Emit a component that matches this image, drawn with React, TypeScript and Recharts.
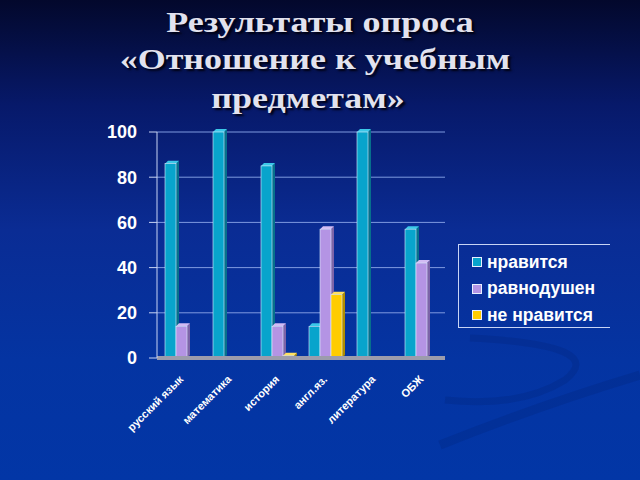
import React from 'react';
import { BarChart, Bar, XAxis, YAxis, CartesianGrid, Legend } from 'recharts';

const subjects = ['русский язык', 'математика', 'история', 'англ.яз.', 'литература', 'ОБЖ'];
const likes = [86, 100, 85, 14, 100, 57];
const indifferent = [14, 0, 14, 57, 0, 42];
const dislikes = [0, 0, 1, 28, 0, 0];
const yTicks = [0, 20, 40, 60, 80, 100];

const seriesInfo = [
  { key: 'likes', name: 'нравится', front: '#08a4cc', side: '#06708c', top: '#3cc8e8' },
  { key: 'indifferent', name: 'равнодушен', front: '#b494e4', side: '#7c64a8', top: '#d2bcf4' },
  { key: 'dislikes', name: 'не нравится', front: '#ffcc00', side: '#b08c00', top: '#ffe060' },
];

const data = subjects.map((s, i) => ({
  subject: s,
  likes: likes[i],
  indifferent: indifferent[i],
  dislikes: dislikes[i],
}));

const SANS = '"Liberation Sans", Arial, sans-serif';

// front face + top + right side, fake 3D like the old ppt chart
const Bar3D = (colors: { front: string; side: string; top: string }) => (props: any) => {
  const { x, y, width, height } = props;
  if (x == null || y == null) return null;
  const d = 3;
  const h = Math.max(height, 0);
  if (h <= 0) return null;
  return (
    <g>
      <polygon
        points={`${x + width},${y} ${x + width + d},${y - d} ${x + width + d},${y + h - d} ${x + width},${y + h}`}
        fill={colors.side}
      />
      <polygon
        points={`${x},${y} ${x + d},${y - d} ${x + width + d},${y - d} ${x + width},${y}`}
        fill={colors.top}
      />
      <rect x={x} y={y} width={width} height={h} fill={colors.front} stroke="#dfefff" strokeWidth={0.6} />
    </g>
  );
};

const SubjectTick = (props: any) => {
  const { x, y, payload } = props;
  return (
    <g transform={`translate(${x + 3},${y + 14})`}>
      <text
        transform="rotate(-45)"
        textAnchor="end"
        fill="#ffffff"
        fontFamily={SANS}
        fontWeight="bold"
        fontSize={11}
      >
        {payload.value}
      </text>
    </g>
  );
};

const LegendBox = () => (
  <div
    style={{
      width: 152,
      height: 84,
      borderTop: '1px solid #c8d4f4',
      borderLeft: '1px solid #c8d4f4',
      borderBottom: '1px solid #c8d4f4',
      boxSizing: 'border-box',
      paddingTop: 4,
      paddingLeft: 13,
      textAlign: 'left',
    }}
  >
    {seriesInfo.map((s) => (
      <div key={s.key} style={{ display: 'flex', alignItems: 'center', height: 26.5 }}>
        <div style={{ width: 8, height: 8, background: s.front, border: '1px solid #e8f0ff', marginRight: 5 }} />
        <span style={{ color: '#ffffff', fontFamily: SANS, fontWeight: 'bold', fontSize: 17.5 }}>{s.name}</span>
      </div>
    ))}
  </div>
);

const titleStyle: React.CSSProperties = {
  position: 'absolute',
  width: 640,
  textAlign: 'center',
  fontFamily: '"Liberation Serif", "Times New Roman", serif',
  fontWeight: 'bold',
  fontSize: 30,
  color: '#e2e2ee',
  textShadow: '2px 2px 2px #000010',
  lineHeight: '36px',
  margin: 0,
  transform: 'scaleX(1.2)',
};

export default function App() {
  return (
    <div
      style={{
        position: 'absolute',
        left: 0,
        top: 0,
        width: 640,
        height: 480,
        overflow: 'hidden',
        background: 'linear-gradient(180deg, #03082c 0%, #07196a 22%, #0a2c94 48%, #0434a2 75%, #0236a6 100%)',
      }}
    >
      <svg width={640} height={480} style={{ position: 'absolute', left: 0, top: 0 }}>
        <path d="M 470 338 Q 610 345 565 380 Q 520 408 445 400" fill="none" stroke="rgba(0,25,100,0.18)" strokeWidth={7} />
        <path d="M 440 445 Q 540 405 640 375" fill="none" stroke="rgba(0,25,100,0.18)" strokeWidth={9} />
      </svg>
      <div style={{ ...titleStyle, top: 4, left: 0 }}>Результаты опроса</div>
      <div style={{ ...titleStyle, top: 41, left: -5 }}>«Отношение к учебным</div>
      <div style={{ ...titleStyle, top: 80, left: -12 }}>предметам»</div>
      <div style={{ position: 'absolute', left: 0, top: 0 }}>
        <BarChart
          width={640}
          height={480}
          data={data}
          margin={{ top: 132, right: 195, bottom: 0, left: 0 }}
          barGap={0}
          barCategoryGap="13%"
        >
          <CartesianGrid vertical={false} stroke="#7f9ae0" strokeWidth={1} />
          <XAxis
            dataKey="subject"
            height={122}
            interval={0}
            tickLine={false}
            axisLine={{ stroke: '#9c9cac', strokeWidth: 4 }}
            tick={<SubjectTick />}
          />
          <YAxis
            domain={[0, 100]}
            ticks={yTicks}
            width={157}
            tickSize={8}
            tickMargin={12}
            axisLine={{ stroke: '#c8d4f4' }}
            tickLine={{ stroke: '#c8d4f4' }}
            tick={{ fill: '#ffffff', fontFamily: SANS, fontWeight: 'bold', fontSize: 18 }}
          />
          <YAxis
            yAxisId="right"
            orientation="right"
            domain={[0, 100]}
            width={0}
            tick={false}
            tickLine={false}
            axisLine={{ stroke: '#c8d4f4' }}
          />
          <Legend
            content={<LegendBox />}
            layout="vertical"
            align="center"
            verticalAlign="middle"
            wrapperStyle={{ position: 'absolute', left: 458, top: 244, width: 152, height: 84 }}
          />
          {seriesInfo.map((s) => (
            <Bar
              key={s.key}
              dataKey={s.key}
              name={s.name}
              fill={s.front}
              barSize={11}
              shape={Bar3D(s)}
              isAnimationActive={false}
            />
          ))}
        </BarChart>
      </div>
    </div>
  );
}
